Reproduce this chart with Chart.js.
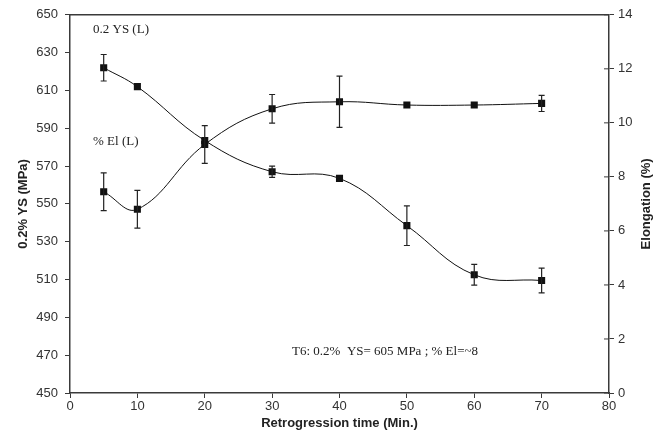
<!DOCTYPE html>
<html>
<head>
<meta charset="utf-8">
<script src="https://cdn.jsdelivr.net/npm/chart.js@4.4.1/dist/chart.umd.min.js"></script>
<style>
  body { margin: 0; background: #fff; }
  #wrap { width: 667px; height: 443px; }
</style>
</head>
<body>
<div id="wrap"><canvas id="retroChart" width="667" height="443"></canvas></div>
<script>
// retrogression time (min)
const times = [5, 10, 20, 30, 40, 50, 60, 70];
// 0.2% yield strength (MPa) and error
const ysValues = [622, 612, 583.5, 567, 563.5, 538.5, 512.5, 509.5];
const ysErrors = [7, 0, 0, 3, 0, 10.5, 5.5, 6.5];
// elongation (%) and error
const elValues = [7.45, 6.8, 9.2, 10.52, 10.78, 10.66, 10.66, 10.72];
const elErrors = [0.7, 0.7, 0.7, 0.53, 0.95, 0, 0, 0.3];

const yLeftTicks = [450, 470, 490, 510, 530, 550, 570, 590, 610, 630, 650];
const yRightTicks = [0, 2, 4, 6, 8, 10, 12, 14];

const axisColor = '#3a3a3a';
const labelColor = '#333';
const tickFont = { family: '"Liberation Sans", Arial', size: 13 };
const titleFont = { family: '"Liberation Sans", Arial', size: 13, weight: 'bold' };

const toPoints = (vals) => times.map((t, i) => ({ x: t, y: vals[i] }));

// error bars, chart frame, inner ticks of the right axis, right title and text notes
const extrasPlugin = {
    id: 'extras',
    afterDatasetsDraw(chart) {
        const { ctx, chartArea, scales } = chart;
        ctx.save();
        // frame top line
        ctx.strokeStyle = axisColor;
        ctx.lineWidth = 1.5;
        ctx.beginPath();
        ctx.moveTo(chartArea.left, chartArea.top);
        ctx.lineTo(chartArea.right, chartArea.top);
        ctx.stroke();
        // inner ticks on right axis
        ctx.lineWidth = 1;
        yRightTicks.forEach(v => {
            const py = scales.y2.getPixelForValue(v);
            ctx.beginPath();
            ctx.moveTo(chartArea.right - 5, py);
            ctx.lineTo(chartArea.right, py);
            ctx.stroke();
        });
        // error bars
        ctx.strokeStyle = '#222';
        ctx.lineWidth = 1.2;
        const drawErr = (vals, errs, yScale) => {
            times.forEach((t, i) => {
                if (!errs[i]) return;
                const px = scales.x.getPixelForValue(t);
                const top = yScale.getPixelForValue(vals[i] + errs[i]);
                const bot = yScale.getPixelForValue(vals[i] - errs[i]);
                ctx.beginPath();
                ctx.moveTo(px, top); ctx.lineTo(px, bot);
                ctx.moveTo(px - 3, top); ctx.lineTo(px + 3, top);
                ctx.moveTo(px - 3, bot); ctx.lineTo(px + 3, bot);
                ctx.stroke();
            });
        };
        drawErr(ysValues, ysErrors, scales.y);
        drawErr(elValues, elErrors, scales.y2);
        // right axis title, reading bottom to top
        ctx.fillStyle = '#222';
        ctx.font = 'bold 13px "Liberation Sans", Arial';
        ctx.textAlign = 'center';
        ctx.textBaseline = 'middle';
        ctx.translate(646, (chartArea.top + chartArea.bottom) / 2);
        ctx.rotate(-Math.PI / 2);
        ctx.fillText('Elongation (%)', 0, 0);
        ctx.setTransform(1, 0, 0, 1, 0, 0);
        // notes
        ctx.textAlign = 'left';
        ctx.font = '13px "Liberation Serif", serif';
        ctx.fillText('0.2 YS (L)', 93, 30);
        ctx.fillText('% El (L)', 93, 142);
        ctx.fillText('T6: 0.2%  YS= 605 MPa ; % El=~8', 292, 352);
        ctx.restore();
    }
};

const ctx = document.getElementById('retroChart').getContext('2d');
const retroChart = new Chart(ctx, {
    type: 'line',
    data: {
        datasets: [{
            label: '0.2 YS (L)',
            data: toPoints(ysValues),
            yAxisID: 'y',
            borderColor: '#111',
            backgroundColor: '#111',
            borderWidth: 1,
            tension: 0.4,
            pointStyle: 'rect',
            pointRadius: 5,
            pointBorderWidth: 0
        }, {
            label: '% El (L)',
            data: toPoints(elValues),
            yAxisID: 'y2',
            borderColor: '#111',
            backgroundColor: '#111',
            borderWidth: 1,
            tension: 0.4,
            pointStyle: 'rect',
            pointRadius: 5,
            pointBorderWidth: 0
        }]
    },
    options: {
        responsive: false,
        animation: false,
        layout: { padding: { top: 14, left: 16, right: 0, bottom: 12 } },
        plugins: {
            legend: { display: false },
            tooltip: { enabled: false }
        },
        scales: {
            x: {
                type: 'linear',
                min: 0,
                max: 80,
                afterFit: (s) => { s.height = 38; },
                ticks: {
                    stepSize: 10,
                    color: labelColor,
                    font: tickFont,
                    padding: 1
                },
                grid: { drawOnChartArea: false, tickLength: 5, color: axisColor },
                border: { color: axisColor, width: 1.5 },
                title: {
                    display: true,
                    text: 'Retrogression time (Min.)',
                    color: '#222',
                    font: titleFont,
                    padding: { top: 2, bottom: 0 }
                }
            },
            y: {
                type: 'linear',
                position: 'left',
                min: 450,
                max: 650,
                afterFit: (s) => { s.width = 54; },
                afterBuildTicks: (s) => { s.ticks = yLeftTicks.map(v => ({ value: v })); },
                ticks: {
                    color: labelColor,
                    font: tickFont,
                    padding: 7
                },
                grid: { drawOnChartArea: false, tickLength: 5, color: axisColor },
                border: { color: axisColor, width: 1.5 },
                title: {
                    display: true,
                    text: '0.2% YS (MPa)',
                    color: '#222',
                    font: titleFont,
                    padding: { top: 0, bottom: 0 }
                }
            },
            y2: {
                type: 'linear',
                position: 'right',
                min: 0,
                max: 14,
                afterFit: (s) => { s.width = 58; },
                afterBuildTicks: (s) => { s.ticks = yRightTicks.map(v => ({ value: v })); },
                ticks: {
                    color: labelColor,
                    font: tickFont,
                    padding: 4
                },
                grid: { drawOnChartArea: false, tickLength: 5, color: axisColor },
                border: { color: axisColor, width: 1.5 }
            }
        }
    },
    plugins: [extrasPlugin]
});
</script>
</body>
</html>
